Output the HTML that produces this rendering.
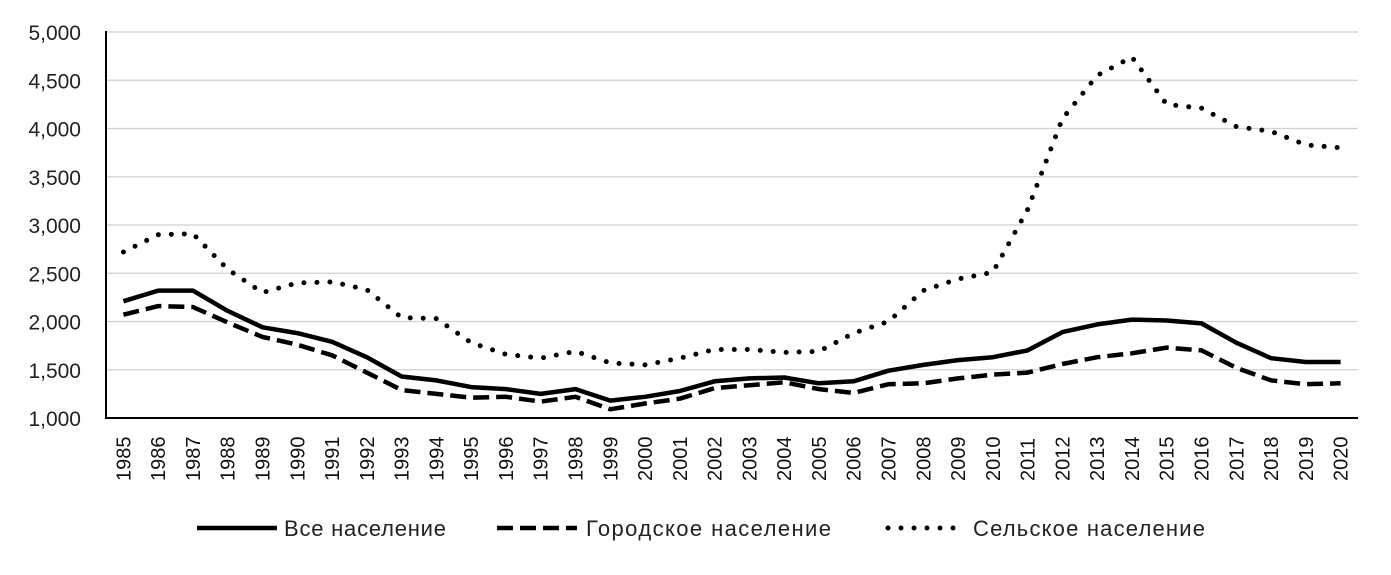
<!DOCTYPE html>
<html><head><meta charset="utf-8"><style>
body{margin:0;background:#fff;font-family:"Liberation Sans",sans-serif;}
</style></head><body>
<svg id="s" width="1391" height="570" xmlns="http://www.w3.org/2000/svg" font-family="Liberation Sans, sans-serif"></svg>
<script>
const T=[2210,2320,2320,2110,1940,1880,1790,1630,1430,1390,1320,1300,1250,1300,1180,1220,1280,1380,1410,1420,1360,1380,1490,1550,1600,1630,1700,1890,1970,2020,2010,1980,1780,1620,1580,1580];
const U=[2070,2160,2150,1990,1840,1760,1650,1470,1290,1250,1210,1220,1170,1220,1090,1150,1200,1310,1340,1370,1300,1260,1350,1360,1410,1450,1470,1560,1630,1670,1730,1700,1520,1390,1350,1360];
const R=[2720,2900,2910,2540,2300,2400,2410,2330,2040,2030,1780,1660,1620,1690,1570,1550,1620,1710,1710,1680,1690,1880,2000,2320,2440,2510,3160,4100,4550,4740,4250,4210,4020,3970,3830,3800];
const L=106,Rt=1358,step=(Rt-L)/36;
const X=i=>L+step*(i+0.5), Y=v=>418-(v-1000)*0.0965;
let h='';
for(let v=1000;v<=5000;v+=500){const y=Y(v);
 if(v>1000)h+=`<line x1="${L}" x2="${Rt}" y1="${y}" y2="${y}" stroke="#d0d0d0" stroke-width="1.3"/>`;
 h+=`<text x="81" y="${y+8}" font-size="21" text-anchor="end" fill="#222">${v.toLocaleString('en-US')}</text>`;}
h+=`<line x1="${L}" x2="${L}" y1="31" y2="419" stroke="#000" stroke-width="2"/>`;
h+=`<line x1="${L}" x2="${Rt}" y1="418" y2="418" stroke="#000" stroke-width="2"/>`;
for(let i=0;i<36;i++){const x=X(i);h+=`<text transform="translate(${x+7},${481}) rotate(-90)" font-size="20" fill="#111">${1985+i}</text>`;}
const pl=(d,st)=>`<polyline fill="none" stroke="#000" ${st} stroke-linejoin="round" points="${d.map((v,i)=>X(i).toFixed(1)+','+Y(v).toFixed(1)).join(' ')}"/>`;
h+=pl(T,'stroke-width="4.5"');
h+=pl(U,'stroke-width="4.5" stroke-dasharray="16 7"');
h+=pl(R,'stroke-width="5" stroke-dasharray="0 13" stroke-linecap="round"');
h+=`<line x1="197" x2="277" y1="528" y2="528" stroke="#000" stroke-width="4.5"/>`;
h+=`<text x="284" y="536" font-size="22" fill="#222" textLength="162">Все население</text>`;
h+=`<line x1="497" x2="577" y1="528" y2="528" stroke="#000" stroke-width="4.5" stroke-dasharray="16 7"/>`;
h+=`<text x="586" y="536" font-size="22" fill="#222" textLength="245">Городское население</text>`;
h+=`<line x1="888" x2="960" y1="528" y2="528" stroke="#000" stroke-width="5" stroke-dasharray="0 13" stroke-linecap="round"/>`;
h+=`<text x="973" y="536" font-size="22" fill="#222" textLength="232">Сельское население</text>`;
document.getElementById('s').innerHTML=h;
</script>
</body></html>
